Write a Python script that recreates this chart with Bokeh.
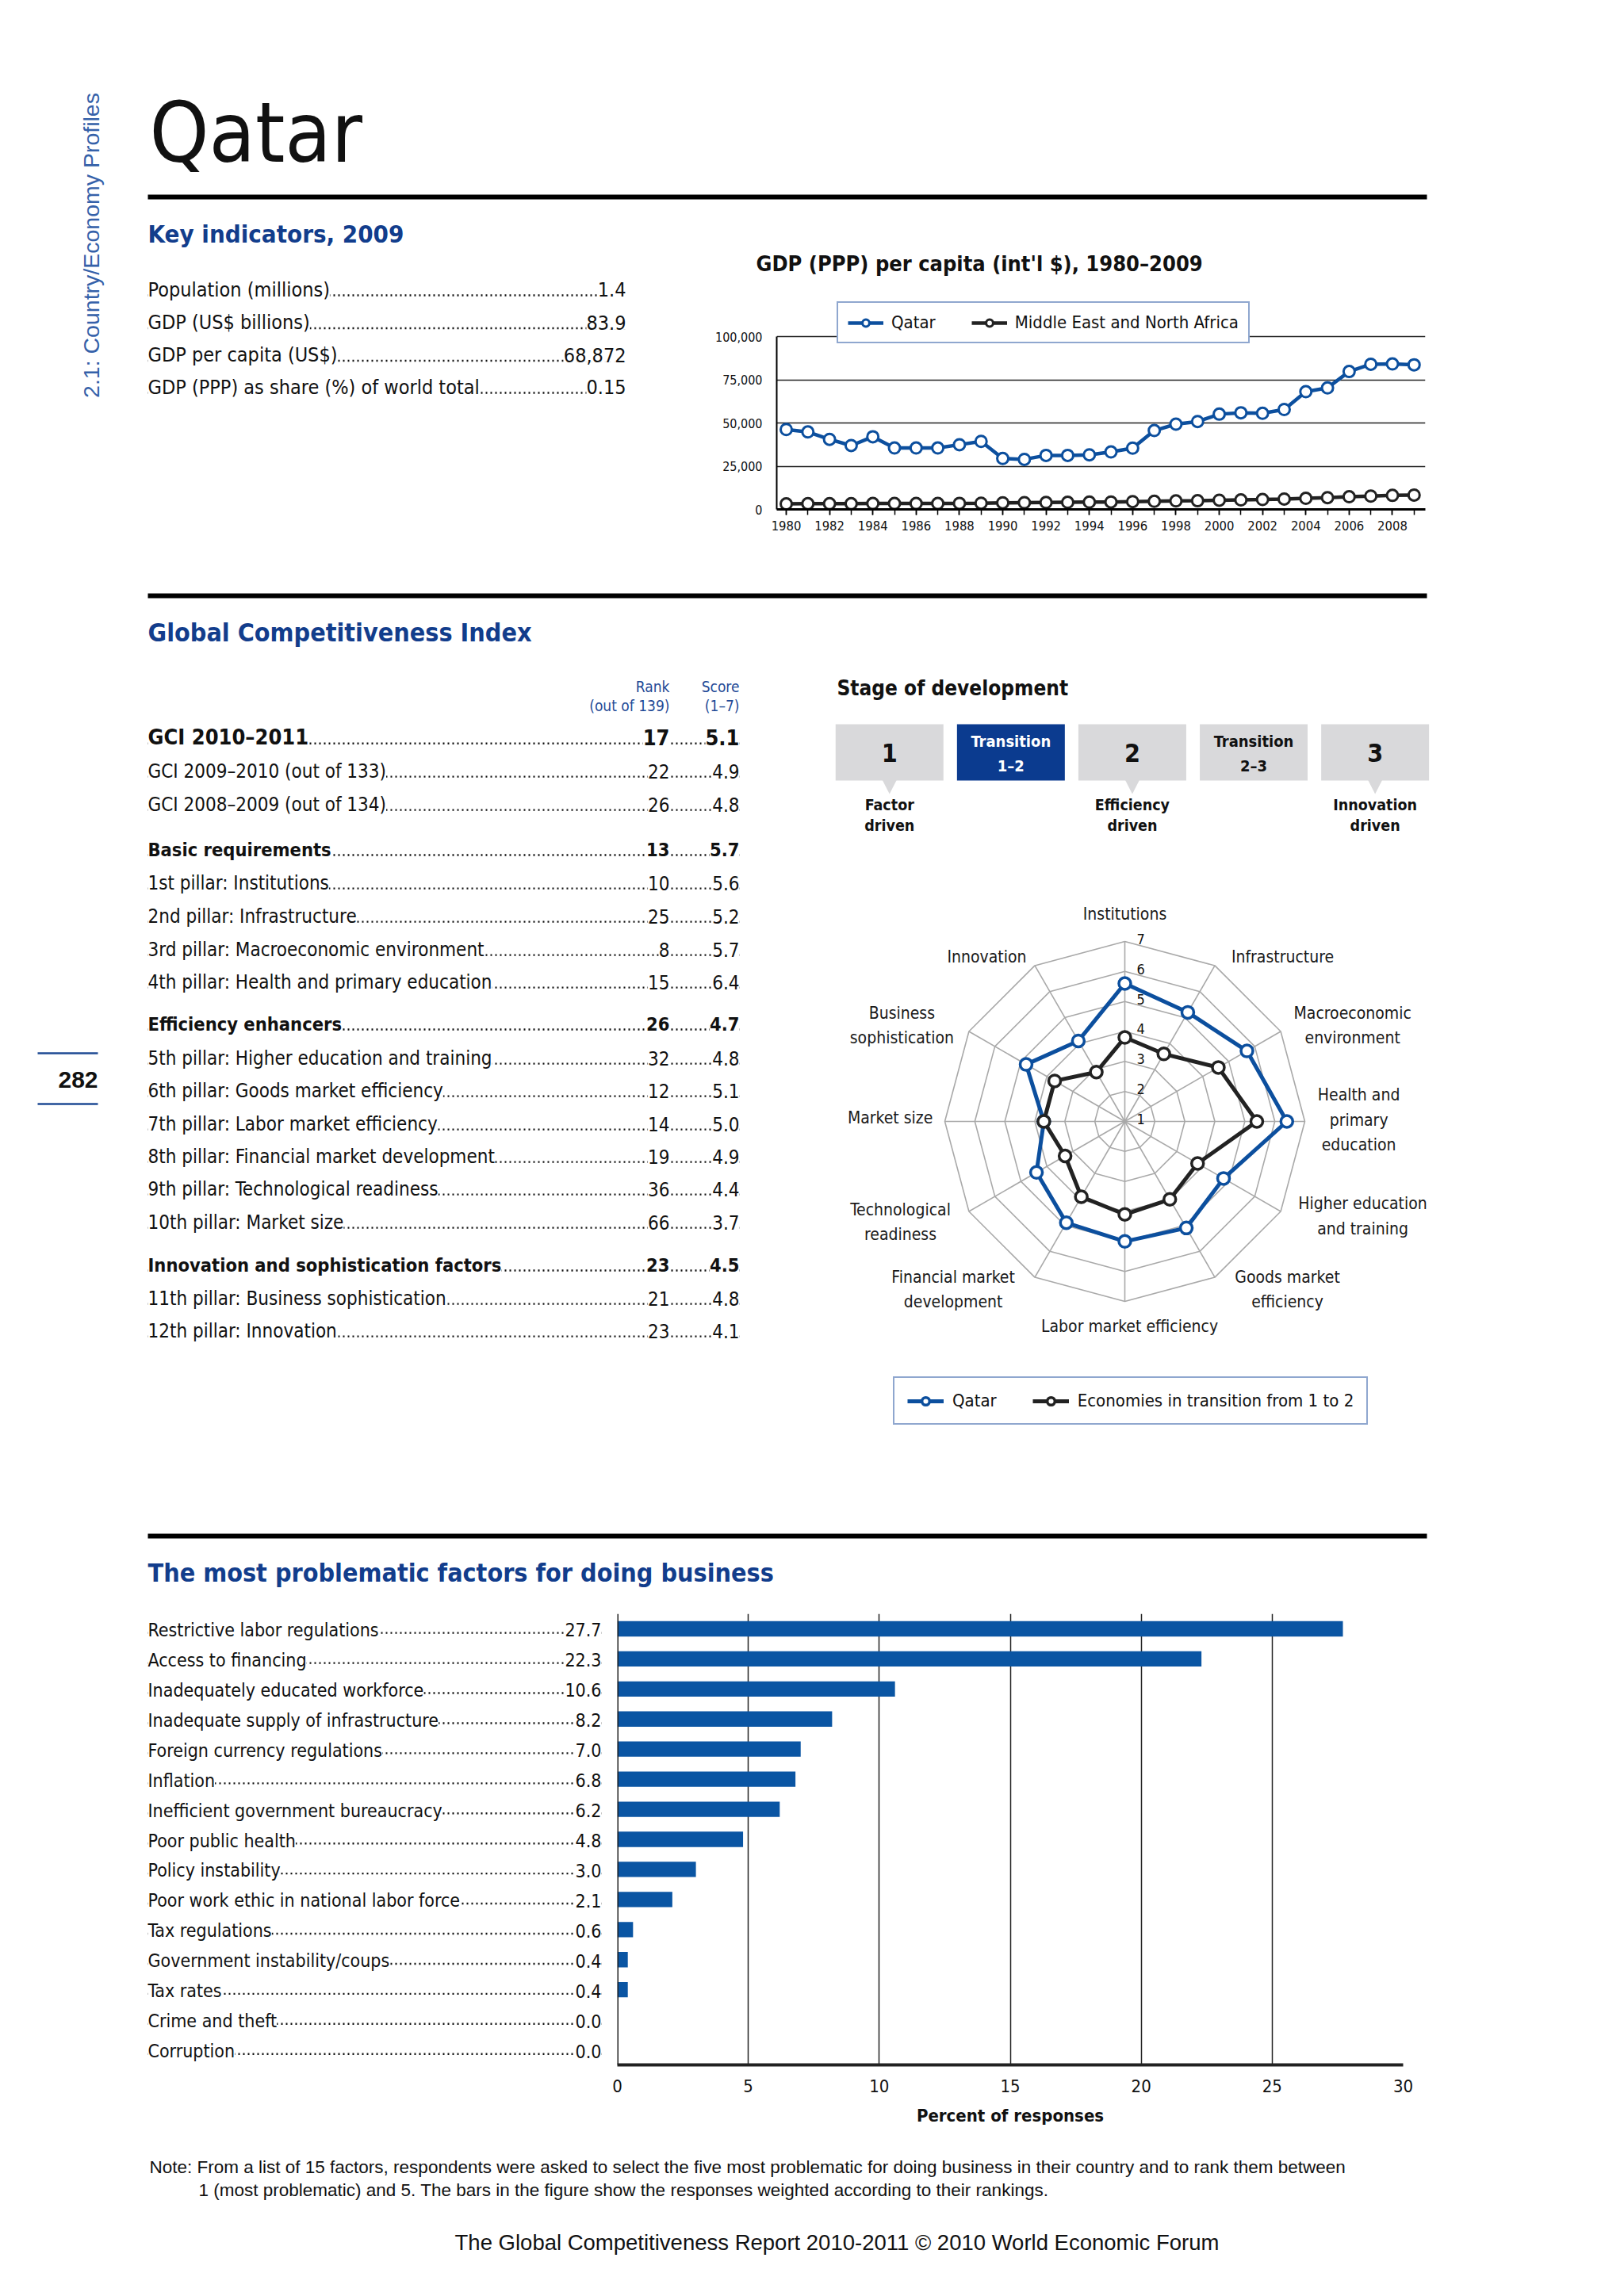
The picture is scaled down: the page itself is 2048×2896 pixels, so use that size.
import numpy as np
from bokeh.plotting import figure
from bokeh.models import (Range1d, FactorRange, FixedTicker, NumeralTickFormatter,
                          Legend, LegendItem, Span)
from bokeh.layouts import row, column
from bokeh.core.properties import value
from bokeh.embed import file_html
from bokeh.resources import INLINE

# ------------------------------------------------------------------ data
country = "Qatar"

key_labels = ["Population (millions)", "GDP (US$ billions)", "GDP per capita (US$)",
              "GDP (PPP) as share (%) of world total"]
key_values = ["1.4", "83.9", "68,872", "0.15"]

gdp_years = list(range(1980, 2010))
gdp_qatar = [46300, 44900, 40600, 37000, 42100, 35600, 35600, 35600, 37500, 39400,
             29500, 29000, 31300, 31300, 31600, 33300, 35500, 45700, 49400, 50900,
             55200, 56000, 55700, 57900, 68200, 70400, 79900, 84100, 84300, 83800]
gdp_mena = [3200, 3300, 3300, 3300, 3400, 3400, 3400, 3400, 3500, 3600,
            3800, 3900, 4000, 4100, 4200, 4300, 4500, 4700, 4900, 5000,
            5300, 5500, 5700, 6000, 6400, 6800, 7300, 7700, 8100, 8300]
gdp_series_names = ["Qatar", "Middle East and North Africa"]
gdp_ticks = [0, 25000, 50000, 75000, 100000]

gci_labels = ["GCI 2010\u20132011", "GCI 2009\u20132010 (out of 133)", "GCI 2008\u20132009 (out of 134)",
              "Basic requirements", "1st pillar: Institutions", "2nd pillar: Infrastructure",
              "3rd pillar: Macroeconomic environment", "4th pillar: Health and primary education",
              "Efficiency enhancers", "5th pillar: Higher education and training",
              "6th pillar: Goods market efficiency", "7th pillar: Labor market efficiency",
              "8th pillar: Financial market development", "9th pillar: Technological readiness",
              "10th pillar: Market size", "Innovation and sophistication factors",
              "11th pillar: Business sophistication", "12th pillar: Innovation"]
gci_ranks = ["17", "22", "26", "13", "10", "25", "8", "15", "26", "32", "12", "14", "19",
             "36", "66", "23", "21", "23"]
gci_scores = ["5.1", "4.9", "4.8", "5.7", "5.6", "5.2", "5.7", "6.4", "4.7", "4.8", "5.1",
              "5.0", "4.9", "4.4", "3.7", "4.5", "4.8", "4.1"]
gci_kind = ["main", "sub", "sub", "head", "sub", "sub", "sub", "sub", "head", "sub", "sub",
            "sub", "sub", "sub", "sub", "head", "sub", "sub"]

stage_names = ["1", "Transition\n1\u20132", "2", "Transition\n2\u20133", "3"]
stage_current = 1
stage_main = [0, 2, 4]
stage_drivers = ["Factor\ndriven", "Efficiency\ndriven", "Innovation\ndriven"]

pillars = ["Institutions", "Infrastructure", "Macroeconomic\nenvironment",
           "Health and\nprimary\neducation", "Higher education\nand training",
           "Goods market\nefficiency", "Labor market efficiency",
           "Financial market\ndevelopment", "Technological\nreadiness", "Market size",
           "Business\nsophistication", "Innovation"]
radar_qatar = [5.6, 5.2, 5.7, 6.4, 4.8, 5.1, 5.0, 4.9, 4.4, 3.7, 4.8, 4.1]
radar_transition = [3.8, 3.6, 4.6, 5.4, 3.8, 4.0, 4.1, 3.9, 3.3, 3.7, 3.7, 2.9]
radar_series_names = ["Qatar", "Economies in transition from 1 to 2"]
score_levels = [1, 2, 3, 4, 5, 6, 7]

factor_names = ["Restrictive labor regulations", "Access to financing",
                "Inadequately educated workforce", "Inadequate supply of infrastructure",
                "Foreign currency regulations", "Inflation",
                "Inefficient government bureaucracy", "Poor public health",
                "Policy instability", "Poor work ethic in national labor force",
                "Tax regulations", "Government instability/coups", "Tax rates",
                "Crime and theft", "Corruption"]
factor_values = [27.7, 22.3, 10.6, 8.2, 7.0, 6.8, 6.2, 4.8, 3.0, 2.1, 0.6, 0.4, 0.4, 0.0, 0.0]
bar_ticks = [0, 5, 10, 15, 20, 25, 30]

note_lines = ["Note: From a list of 15 factors, respondents were asked to select the five most "
              "problematic for doing business in their country and to rank them between",
              "1 (most problematic) and 5. The bars in the figure show the responses weighted "
              "according to their rankings."]
footer = "The Global Competitiveness Report 2010-2011 \u00a9 2010 World Economic Forum"

# ------------------------------------------------------------------ styles
NARROW = "DejaVu Sans Condensed"
SANS = "Liberation Sans"
BLUE_T = "#123d8c"
BLUE_S = "#3561a9"
BLUE_L = "#0c4f9e"
LEG_BORDER = "#1f4f9f"
BAR = "#0a55a3"
STAGE_BLUE = "#0b3b8f"
GRAY = "#d9d9db"
GRID = "#a9a9a9"
INK = "#111111"
DARK = "#222222"


def T(p, x, y, s, size, font=None, bold=False, color=INK, align="left",
      baseline="middle", bg=None, angle=0.0, lh=1.2):
    kw = dict(x=list(x), y=list(y), text=list(s), text_font=value(font or NARROW),
              text_font_size=value(f"{size}px"),
              text_font_style="bold" if bold else "normal", text_color=color,
              text_align=align, text_baseline=baseline, angle=angle, text_line_height=lh)
    if bg is not None:
        kw["background_fill_color"] = bg
    return p.text(**kw)


def page_fig(w, h, bottom=0):
    fh = h - bottom
    p = figure(width=w, height=h, x_range=Range1d(0, w), y_range=Range1d(fh, 0),
               x_axis_location=None, y_axis_location=None, output_backend="svg",
               toolbar_location=None, min_border=0, min_border_bottom=bottom)
    p.grid.visible = False
    p.outline_line_color = None
    p.background_fill_color = "white"
    p.border_fill_color = "white"
    return p


def leaders(p, x0, x1, ys):
    n = len(ys)
    p.segment(x0=[x0] * n, y0=list(ys), x1=[x1] * n, y1=list(ys),
              line_color=INK, line_width=2.4, line_dash="2 4")


def rule(p, x0, x1, y):
    p.segment(x0=[x0], y0=[y], x1=[x1], y1=[y], line_color="#000000", line_width=6)


# ------------------------------------------------------------------ sidebar
side = page_fig(170, 2870)
T(side, [114], [309], ["2.1: Country/Economy Profiles"], 28.5, font=SANS, color=BLUE_S,
  align="center", angle=np.pi / 2)
side.segment(x0=[47, 47], y0=[1328, 1392], x1=[123, 123], y1=[1328, 1392],
             line_color="#1f4b94", line_width=2.5)
T(side, [123], [1361], ["282"], 30, font=SANS, bold=True, align="right")

# ------------------------------------------------------------------ header
head = page_fig(1870, 262)
T(head, [18], [167], [country], 106)
rule(head, 16, 1629, 248)

# ------------------------------------------------------------------ titles row
tit = page_fig(1870, 90)
T(tit, [16], [32], ["Key indicators, 2009"], 31, bold=True, color=BLUE_T)
T(tit, [783], [70], ["GDP (PPP) per capita (int'l $), 1980\u20132009"], 27, bold=True)

# ------------------------------------------------------------------ key indicators
ROW_A_TOP = 352
keyf = page_fig(710, 742 - ROW_A_TOP, bottom=100)
key_centers = [364.5 - ROW_A_TOP, 406 - ROW_A_TOP, 447 - ROW_A_TOP, 487.5 - ROW_A_TOP]
leaders(keyf, 16, 619, [c + 0.36 * 25 - 1.5 for c in key_centers])
T(keyf, [16] * 4, key_centers, key_labels, 25, bg="white")
T(keyf, [619] * 4, key_centers, key_values, 25, align="right", bg="white")

# ------------------------------------------------------------------ GDP chart
gdp_top = 100000 * (641.7 - ROW_A_TOP) / (641.7 - 424.3)
gdp = figure(width=1160, height=742 - ROW_A_TOP, x_range=Range1d(1979.56, 2009.52),
             y_range=Range1d(0, gdp_top), output_backend="svg", toolbar_location=None,
             min_border_left=99, min_border_right=243, min_border_top=0,
             min_border_bottom=100)
gdp.outline_line_color = None
gdp.xgrid.visible = False
gdp.ygrid.ticker = FixedTicker(ticks=gdp_ticks)
gdp.ygrid.grid_line_color = DARK
gdp.ygrid.grid_line_width = 1.5
xa = gdp.xaxis[0]
xa.ticker = FixedTicker(ticks=[y for y in gdp_years if y % 2 == 0], minor_ticks=gdp_years)
xa.major_tick_in = 0
xa.major_tick_out = 7
xa.minor_tick_in = 0
xa.minor_tick_out = 7
xa.major_tick_line_color = "#000000"
xa.minor_tick_line_color = "#000000"
xa.major_tick_line_width = 1.5
xa.minor_tick_line_width = 1.5
xa.axis_line_width = 3
xa.axis_line_color = "#000000"
xa.major_label_text_font = NARROW
xa.major_label_text_font_size = "16.5px"
xa.major_label_text_color = INK
xa.major_label_standoff = 7
ya = gdp.yaxis[0]
ya.ticker = FixedTicker(ticks=gdp_ticks)
ya.bounds = (0, gdp_ticks[-1])
ya.formatter = NumeralTickFormatter(format="0,0")
ya.major_tick_line_color = None
ya.minor_tick_line_color = None
ya.axis_line_width = 2
ya.axis_line_color = "#000000"
ya.major_label_text_font = NARROW
ya.major_label_text_font_size = "16px"
ya.major_label_text_color = INK
ya.major_label_standoff = 12

gl1 = gdp.line(gdp_years, gdp_qatar, line_color=BLUE_L, line_width=4.5)
gs1 = gdp.scatter(gdp_years, gdp_qatar, size=14, fill_color="white", line_color=BLUE_L,
                  line_width=3)
gl2 = gdp.line(gdp_years, gdp_mena, line_color=DARK, line_width=4.5)
gs2 = gdp.scatter(gdp_years, gdp_mena, size=14, fill_color="white", line_color=DARK,
                  line_width=3)
gleg = Legend(items=[LegendItem(label=value(gdp_series_names[0]), renderers=[gl1, gs1]),
                     LegendItem(label=value(gdp_series_names[1]), renderers=[gl2, gs2])],
              location=(76, 209), orientation="horizontal", border_line_color=LEG_BORDER,
              border_line_width=2.5, padding=12, spacing=45, label_standoff=10,
              glyph_width=45, glyph_height=22, label_text_font=NARROW,
              label_text_font_size="22px", label_text_color=INK,
              background_fill_color="white", background_fill_alpha=1.0)
gdp.add_layout(gleg, "center")

# ------------------------------------------------------------------ GCI header
gcih = page_fig(1870, 83)
rule(gcih, 16, 1629, 9)
T(gcih, [16], [55], ["Global Competitiveness Index"], 32, bold=True, color=BLUE_T)

# ------------------------------------------------------------------ GCI table
tab = page_fig(870, 1080)
T(tab, [674, 762], [40, 40], ["Rank", "Score"], 19, color="#1f4a96", align="right")
T(tab, [674, 762], [64, 64], ["(out of 139)", "(1\u20137)"], 19, color="#1f4a96",
  align="right")
row_centers = [104, 147, 189, 246, 288, 330, 372, 413, 466, 509, 550, 592, 633, 674, 716,
               770, 812, 853]
size_of = {"main": 27, "head": 23.5, "sub": 24}
leaders(tab, 16, 762, [c + 0.36 * size_of[k] - 1.5 for c, k in zip(row_centers, gci_kind)])
for kind in ("main", "head", "sub"):
    idx = [i for i, k in enumerate(gci_kind) if k == kind]
    cys = [row_centers[i] for i in idx]
    sz = size_of[kind]
    bold = kind != "sub"
    T(tab, [16] * len(idx), cys, [gci_labels[i] for i in idx], sz, bold=bold, bg="white")
    T(tab, [674] * len(idx), cys, [gci_ranks[i] for i in idx], sz, bold=bold,
      align="right", bg="white")
    T(tab, [762] * len(idx), cys, [gci_scores[i] for i in idx], sz, bold=bold,
      align="right", bg="white")

# ------------------------------------------------------------------ stage of development
st_k = 153.1
stage = figure(width=1000, height=235, x_range=Range1d(-81.25 / st_k, (1000 - 81.25) / st_k),
               y_range=Range1d(235, 0), x_axis_location=None, y_axis_location=None,
               output_backend="svg", toolbar_location=None, min_border=0)
stage.grid.visible = False
stage.outline_line_color = None
T(stage, [(15 - 81.25) / st_k], [42], ["Stage of development"], 26, bold=True)
sidx = list(range(len(stage_names)))
stage.rect(x=sidx, y=[123.5] * len(sidx), width=136 / st_k, height=71,
           fill_color=[STAGE_BLUE if i == stage_current else GRAY for i in sidx],
           line_color=None)
stage.patches(xs=[[i - 0.06, i + 0.06, i] for i in stage_main],
              ys=[[158, 158, 176] for _ in stage_main], fill_color=GRAY, line_color=None)
single = [i for i in sidx if "\n" not in stage_names[i]]
multi = [i for i in sidx if "\n" in stage_names[i]]
stage.text(x=single, y=[124] * len(single), text=[stage_names[i] for i in single],
           text_font=value(NARROW), text_font_size=value("32px"),
           text_font_style="bold", text_align="center", text_baseline="middle",
           text_color=["white" if i == stage_current else INK for i in single])
stage.text(x=multi, y=[125] * len(multi), text=[stage_names[i] for i in multi],
           text_font=value(NARROW), text_font_size=value("20px"),
           text_font_style="bold", text_align="center", text_baseline="middle",
           text_line_height=1.3,
           text_color=["white" if i == stage_current else INK for i in multi])
T(stage, stage_main, [203] * len(stage_main), stage_drivers, 19.5, bold=True,
  align="center", lh=1.15)

# ------------------------------------------------------------------ radar
rk = 227 / 6.0
cx, cy = 378, 354
radar = figure(width=1000, height=845, x_range=Range1d(-cx / rk, (1000 - cx) / rk),
               y_range=Range1d(-(845 - cy) / rk, cy / rk), x_axis_location=None,
               y_axis_location=None, output_backend="svg", toolbar_location=None,
               min_border=0)
radar.grid.visible = False
radar.outline_line_color = None
ang = [np.pi / 2 - i * np.pi / 6 for i in range(len(pillars))]
r_max = score_levels[-1] - score_levels[0]
ring_xs, ring_ys = [], []
for lv in score_levels[1:]:
    r = lv - score_levels[0]
    ring_xs.append([r * np.cos(a) for a in ang + ang[:1]])
    ring_ys.append([r * np.sin(a) for a in ang + ang[:1]])
radar.multi_line(xs=ring_xs, ys=ring_ys, line_color=GRID, line_width=1.6)
radar.segment(x0=[0] * len(ang), y0=[0] * len(ang), x1=[r_max * np.cos(a) for a in ang],
              y1=[r_max * np.sin(a) for a in ang], line_color=GRID, line_width=1.6)
T(radar, [0.53] * len(score_levels), [lv - score_levels[0] + 0.08 for lv in score_levels],
  [str(lv) for lv in score_levels], 18, align="center")


def polar(vals):
    xs = [(v - score_levels[0]) * np.cos(a) for v, a in zip(vals, ang)]
    ys = [(v - score_levels[0]) * np.sin(a) for v, a in zip(vals, ang)]
    return xs, ys


qx, qy = polar(radar_qatar)
tx, ty = polar(radar_transition)
rl1 = radar.line(qx + qx[:1], qy + qy[:1], line_color=BLUE_L, line_width=5)
rs1 = radar.scatter(qx, qy, size=15, fill_color="white", line_color=BLUE_L, line_width=3.5)
rl2 = radar.line(tx + tx[:1], ty + ty[:1], line_color=DARK, line_width=5)
rs2 = radar.scatter(tx, ty, size=15, fill_color="white", line_color=DARK, line_width=3.5)

radar_label_xy = [(0, 6.9), (5.26, 5.49), (7.59, 3.2), (7.8, 0.05), (7.93, -3.16),
                  (5.42, -5.6), (0.16, -6.82), (-5.72, -5.6), (-7.48, -3.36), (-7.82, 0.13),
                  (-7.43, 3.2), (-4.6, 5.49)]
T(radar, [p[0] for p in radar_label_xy], [p[1] for p in radar_label_xy], pillars, 21,
  color="#1a1a1a", align="center", lh=1.3)

rleg = Legend(items=[LegendItem(label=value(radar_series_names[0]), renderers=[rl1, rs1]),
                     LegendItem(label=value(radar_series_names[1]), renderers=[rl2, rs2])],
              location=(86, 108), orientation="horizontal", border_line_color=LEG_BORDER,
              border_line_width=2.5, background_fill_color="white",
              background_fill_alpha=1.0, padding=16, spacing=45, label_standoff=11,
              glyph_width=46, glyph_height=24, label_text_font=NARROW,
              label_text_font_size="22px", label_text_color=INK)
radar.add_layout(rleg, "center")

# ------------------------------------------------------------------ problematic factors header
pfh = page_fig(1870, 115)
rule(pfh, 16, 1629, 32)
T(pfh, [16], [78], ["The most problematic factors for doing business"], 32, bold=True,
  color=BLUE_T)

# ------------------------------------------------------------------ bar chart
nrow = len(factor_names)
frange = FactorRange(factors=list(reversed(factor_names)), range_padding=0)
bars = figure(width=1270, height=680, y_range=frange, x_range=Range1d(0, bar_ticks[-1]),
              y_axis_location=None, output_backend="svg", toolbar_location=None,
              min_border_left=8, min_border_right=271, min_border_top=15,
              min_border_bottom=96)
bars.outline_line_color = None
bars.ygrid.visible = False
bars.xgrid.ticker = FixedTicker(ticks=bar_ticks)
bars.xgrid.grid_line_color = DARK
bars.xgrid.grid_line_width = 1.5
bars.hbar(y=factor_names, right=factor_values, height=0.51, fill_color=BAR, line_color=None)
bars.add_layout(Span(location=0, dimension="height", line_color=DARK, line_width=3))
bx = bars.xaxis[0]
bx.ticker = FixedTicker(ticks=bar_ticks)
bx.major_tick_line_color = None
bx.minor_tick_line_color = None
bx.axis_line_width = 4
bx.axis_line_color = DARK
bx.major_label_text_font = NARROW
bx.major_label_text_font_size = "22px"
bx.major_label_text_color = INK
bx.major_label_standoff = 12
bx.axis_label = "Percent of responses"
bx.axis_label_text_font = NARROW
bx.axis_label_text_font_size = "22px"
bx.axis_label_text_font_style = "bold"
bx.axis_label_text_color = INK
bx.axis_label_standoff = 14

labs = figure(width=600, height=680, x_range=Range1d(0, 600), y_range=Range1d(0, nrow),
              x_axis_location=None, y_axis_location=None, output_backend="svg",
              toolbar_location=None, min_border_left=0, min_border_right=0,
              min_border_top=15, min_border_bottom=96)
labs.grid.visible = False
labs.outline_line_color = None
row_h = 569 / nrow
lab_center = [nrow - i - 0.5 - 1.5 / row_h for i in range(nrow)]
leaders(labs, 16, 588, [nrow - i - 0.5 - 5.2 / row_h for i in range(nrow)])
T(labs, [16] * nrow, lab_center, factor_names, 23, bg="white")
T(labs, [588] * nrow, lab_center, [f"{v:.1f}" for v in factor_values], 23, align="right",
  bg="white")

# ------------------------------------------------------------------ footer
foot = page_fig(1870, 170)
T(foot, [18, 80], [33, 62], note_lines, 22.5, font=SANS)
T(foot, [885], [128], [footer], 27.5, font=SANS, align="center")

# ------------------------------------------------------------------ layout
main = column(head, tit, row(keyf, gdp), gcih, row(tab, column(stage, radar)), pfh,
              row(labs, bars), foot)
page = row(side, main)

open("out.html", "w").write(file_html(page, INLINE))
